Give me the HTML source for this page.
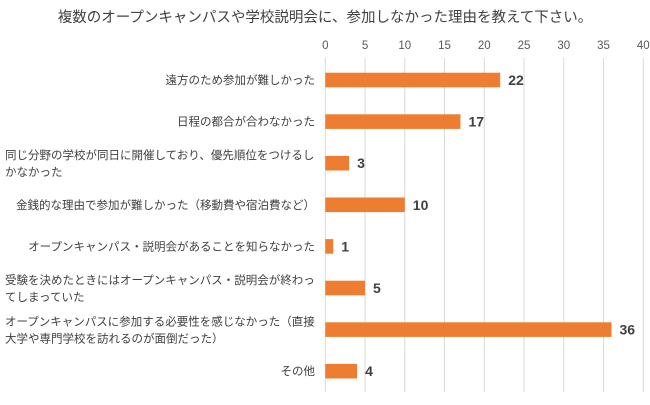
<!DOCTYPE html>
<html><head><meta charset="utf-8"><style>
body{margin:0;background:#fff;}
svg text{font-family:"Liberation Sans","Noto Sans CJK JP",sans-serif;}
</style></head><body>
<svg width="650" height="400" xmlns="http://www.w3.org/2000/svg">
<rect width="650" height="400" fill="#fff"/>
<text x="325" y="22" text-anchor="middle" font-size="14.5" fill="#404040">複数のオープンキャンパスや学校説明会に、参加しなかった理由を教えて下さい。</text>
<g id="grid"></g><g id="bars"></g><g id="labels"></g>
</svg>
<script>
const categories=[
 ["遠方のため参加が難しかった"],
 ["日程の都合が合わなかった"],
 ["同じ分野の学校が同日に開催しており、優先順位をつけるし","かなかった"],
 ["金銭的な理由で参加が難しかった（移動費や宿泊費など）"],
 ["オープンキャンパス・説明会があることを知らなかった"],
 ["受験を決めたときにはオープンキャンパス・説明会が終わっ","てしまっていた"],
 ["オープンキャンパスに参加する必要性を感じなかった（直接","大学や専門学校を訪れるのが面倒だった）"],
 ["その他"]
];
const values=[22,17,3,10,1,5,36,4];
const ticks=[0,5,10,15,20,25,30,35,40];
const NS="http://www.w3.org/2000/svg";
const x0=325.3,x1=643.3,xmax=40;
const xs=v=>x0+(v/xmax)*(x1-x0);
const rowY=i=>80+i*41.6;
function mk(t,a,p){const e=document.createElementNS(NS,t);for(const k in a)e.setAttribute(k,a[k]);p.appendChild(e);return e;}
const g=document.getElementById('grid'),b=document.getElementById('bars'),l=document.getElementById('labels');
ticks.forEach(t=>{
 const ln=mk('line',{x1:xs(t),x2:xs(t),y1:58,y2:392,stroke:'#d9d9d9','stroke-width':1},g);
 
 
 const tx=mk('text',{x:xs(t),y:49,'text-anchor':'middle','font-size':11.5,fill:'#595959'},g);
 tx.textContent=t;
 
 
});
values.forEach((v,i)=>{
 const y=rowY(i);
 const r=mk('rect',{x:xs(0),y:y-7.3,width:xs(v)-xs(0),height:14.6,fill:'#ed7d31'},b);
 
 
 const vt=mk('text',{x:xs(v)+8,y:y+5,'font-size':14,'font-weight':'bold',fill:'#404040'},b);
 vt.textContent=v;
 
 
 const c=categories[i];
 if(c.length===1){
  const t=mk('text',{x:315,y:y+4,'text-anchor':'end','font-size':11.5,fill:'#404040'},l);
  t.textContent=c[0];
  
  
 } else {
  c.forEach((s,j)=>{
   const t=mk('text',{x:j===0?5:(s.length>10?5:5),y:y-4+j*17,'font-size':11.5,fill:'#404040'},l);
   t.textContent=s;
   
   
  });
 }
});
</script>
</body></html>
